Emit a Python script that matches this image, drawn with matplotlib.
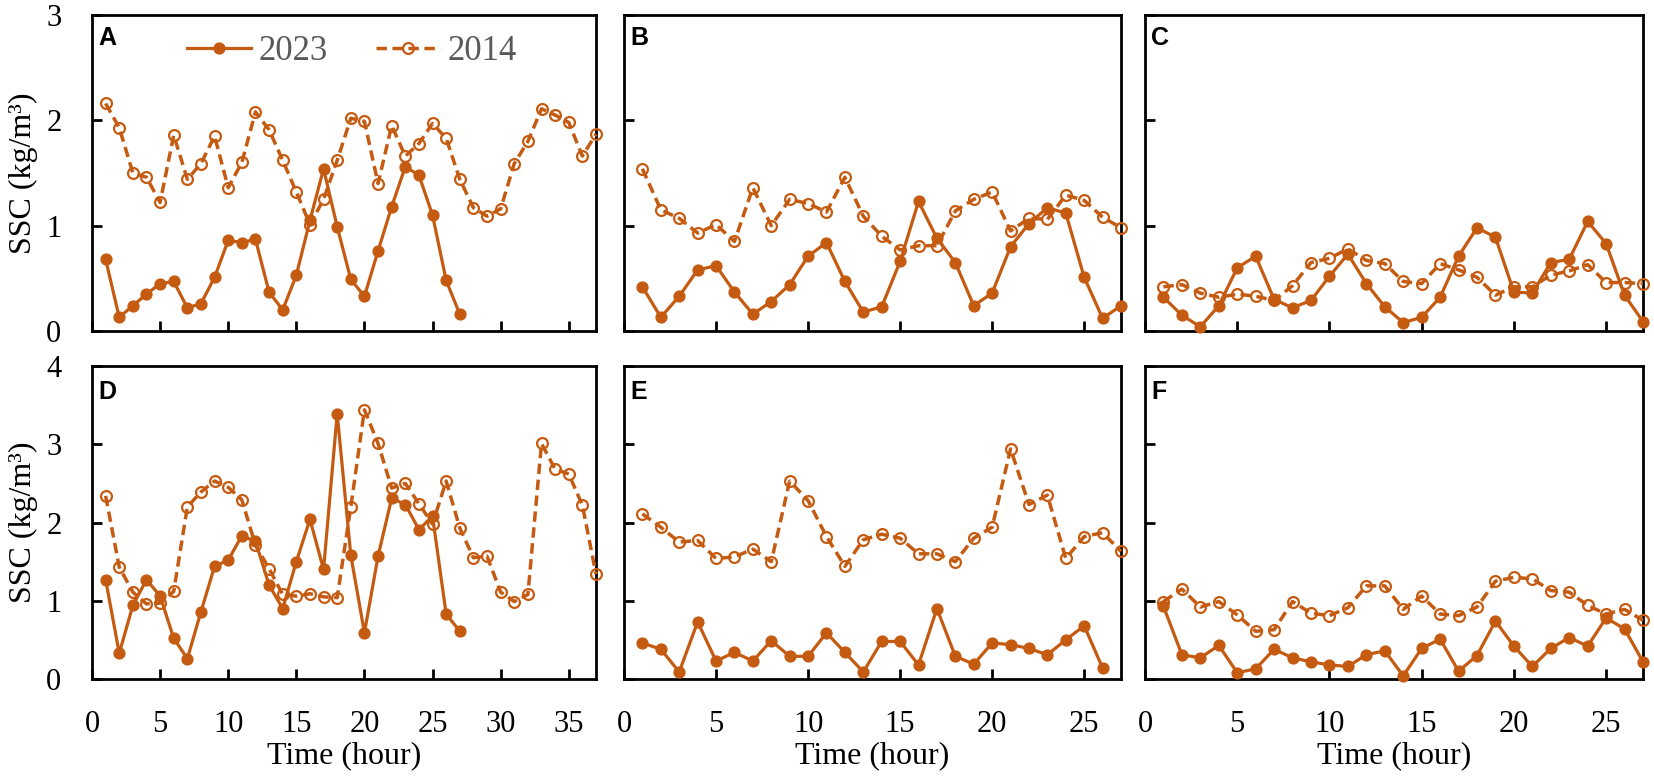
import matplotlib
matplotlib.use("Agg")
import matplotlib.pyplot as plt

# ---------------- data ----------------
hours_37 = list(range(1, 38))
hours_27 = list(range(1, 28))
hours_26 = list(range(1, 27))

A_2023 = [0.68, 0.13, 0.24, 0.35, 0.45, 0.47, 0.22, 0.26, 0.51, 0.86, 0.84, 0.87, 0.37, 0.20,
          0.53, 1.05, 1.54, 0.99, 0.49, 0.33, 0.76, 1.18, 1.56, 1.48, 1.10, 0.48, 0.16]
A_2014 = [2.16, 1.93, 1.50, 1.46, 1.22, 1.86, 1.44, 1.59, 1.85, 1.36, 1.60, 2.08, 1.91, 1.62,
          1.32, 1.01, 1.25, 1.62, 2.02, 1.99, 1.40, 1.95, 1.66, 1.78, 1.97, 1.83, 1.44, 1.17,
          1.09, 1.16, 1.59, 1.80, 2.11, 2.05, 1.98, 1.66, 1.87]

B_2023 = [0.42, 0.13, 0.33, 0.58, 0.62, 0.37, 0.16, 0.28, 0.44, 0.71, 0.84, 0.47, 0.18, 0.23,
          0.66, 1.23, 0.88, 0.65, 0.24, 0.36, 0.80, 1.02, 1.17, 1.12, 0.51, 0.12, 0.24]
B_2014 = [1.54, 1.15, 1.07, 0.93, 1.01, 0.85, 1.36, 1.00, 1.25, 1.21, 1.13, 1.46, 1.09, 0.90,
          0.77, 0.81, 0.81, 1.14, 1.25, 1.32, 0.95, 1.07, 1.06, 1.29, 1.24, 1.08, 0.98]

C_2023 = [0.32, 0.15, 0.04, 0.24, 0.60, 0.71, 0.30, 0.22, 0.29, 0.52, 0.73, 0.45, 0.23, 0.08,
          0.13, 0.32, 0.71, 0.98, 0.89, 0.37, 0.36, 0.65, 0.68, 1.04, 0.83, 0.34, 0.09]
C_2014 = [0.42, 0.44, 0.36, 0.32, 0.35, 0.33, 0.29, 0.43, 0.65, 0.69, 0.78, 0.67, 0.64, 0.47,
          0.45, 0.64, 0.58, 0.51, 0.34, 0.42, 0.42, 0.53, 0.57, 0.63, 0.46, 0.46, 0.45]

D_2023 = [1.27, 0.33, 0.94, 1.27, 1.06, 0.52, 0.26, 0.86, 1.44, 1.52, 1.83, 1.76, 1.20, 0.90,
          1.50, 2.04, 1.40, 3.39, 1.58, 0.59, 1.57, 2.31, 2.23, 1.91, 2.08, 0.83, 0.61]
D_2014 = [2.34, 1.43, 1.11, 0.96, 0.97, 1.12, 2.20, 2.39, 2.53, 2.45, 2.29, 1.71, 1.41, 1.08,
          1.06, 1.09, 1.05, 1.04, 2.20, 3.44, 3.01, 2.44, 2.50, 2.24, 1.98, 2.53, 1.93, 1.55,
          1.57, 1.11, 0.99, 1.08, 3.01, 2.68, 2.62, 2.22, 1.34]

E_2023 = [0.46, 0.38, 0.09, 0.73, 0.23, 0.34, 0.23, 0.49, 0.29, 0.29, 0.59, 0.34, 0.09, 0.48,
          0.48, 0.18, 0.90, 0.29, 0.19, 0.46, 0.44, 0.39, 0.31, 0.50, 0.68, 0.14]
E_2014 = [2.11, 1.94, 1.75, 1.77, 1.54, 1.56, 1.66, 1.50, 2.53, 2.28, 1.82, 1.44, 1.78, 1.85,
          1.80, 1.60, 1.60, 1.50, 1.80, 1.94, 2.94, 2.23, 2.35, 1.54, 1.82, 1.87, 1.63]

F_2023 = [0.93, 0.31, 0.27, 0.43, 0.08, 0.13, 0.38, 0.27, 0.22, 0.18, 0.16, 0.31, 0.36, 0.04,
          0.39, 0.51, 0.10, 0.30, 0.74, 0.42, 0.16, 0.39, 0.53, 0.42, 0.78, 0.64, 0.22]
F_2014 = [0.99, 1.15, 0.92, 0.99, 0.82, 0.61, 0.63, 0.99, 0.84, 0.81, 0.91, 1.19, 1.19, 0.89,
          1.06, 0.83, 0.81, 0.92, 1.25, 1.30, 1.28, 1.13, 1.11, 0.94, 0.83, 0.89, 0.75]

panel_letters = ["A", "B", "C", "D", "E", "F"]
series_labels = ["2023", "2014"]
xlabel_text = "Time (hour)"
ylabel_text = "SSC (kg/m³)"

# ---------------- style ----------------
COLOR = "#C55A11"
SERIF = "Liberation Serif"
plt.rcParams["font.family"] = [SERIF, "DejaVu Serif"]

W, H = 1654, 776
fig = plt.figure(figsize=(W / 100, H / 100), dpi=100)

cols = [(92, 596), (624, 1121), (1145, 1643)]
rows = [(15, 331), (366, 679)]

panels = [
    (hours_27, A_2023, hours_37, A_2014, 37, 3),
    (hours_27, B_2023, hours_27, B_2014, 27, 3),
    (hours_27, C_2023, hours_27, C_2014, 27, 3),
    (hours_27, D_2023, hours_37, D_2014, 37, 4),
    (hours_26, E_2023, hours_27, E_2014, 27, 4),
    (hours_27, F_2023, hours_27, F_2014, 27, 4),
]

axes = []
for i, (x1, y1, x2, y2, xmax, ymax) in enumerate(panels):
    r, c = divmod(i, 3)
    l, rr = cols[c]
    t, b = rows[r]
    ax = fig.add_axes([l / W, 1 - b / H, (rr - l) / W, (b - t) / H])
    axes.append(ax)
    ax.plot(x1, y1, color=COLOR, lw=2.3, marker="o", ms=7.8, mfc=COLOR, mec=COLOR,
            clip_on=False, zorder=3, label=series_labels[0])
    ax.plot(x2, y2, color=COLOR, lw=2.5, ls=(0, (3.0, 1.6)), marker="o", ms=7.8,
            mfc="none", mec=COLOR, mew=1.6, clip_on=False, zorder=3, label=series_labels[1])
    ax.set_xlim(0, xmax)
    ax.set_ylim(0, ymax)
    ax.set_xticks(list(range(0, xmax, 5)))
    ax.set_yticks(list(range(0, ymax + 1)))
    for s in ax.spines.values():
        s.set_linewidth(2.0)
        s.set_color("black")
    ax.tick_params(direction="in", length=7, width=2, labelsize=22, pad=22,
                   colors="black")
    if c != 0:
        ax.tick_params(axis="y", labelleft=False)
    if r == 0:
        ax.tick_params(axis="x", labelbottom=False)
    else:
        ax.set_xlabel(xlabel_text, fontsize=23, labelpad=2)
    if c == 0:
        ax.set_ylabel(ylabel_text, fontsize=23)
        ax.yaxis.set_label_coords(-0.108, 0.5)
    ax.text(0.012, 0.965 if r == 0 else 0.955, panel_letters[i], transform=ax.transAxes,
            ha="left", va="top", fontsize=18, fontweight="bold",
            family=["Liberation Sans", "DejaVu Sans"])

leg = axes[0].legend(loc="center", bbox_to_anchor=(0.515, 0.883), ncol=2, frameon=False,
                     fontsize=25, handlelength=1.85, handletextpad=0.2, columnspacing=1.4,
                     borderpad=0)
for txt in leg.get_texts():
    txt.set_color("#595959")

fig.savefig("out.png", dpi=100)
